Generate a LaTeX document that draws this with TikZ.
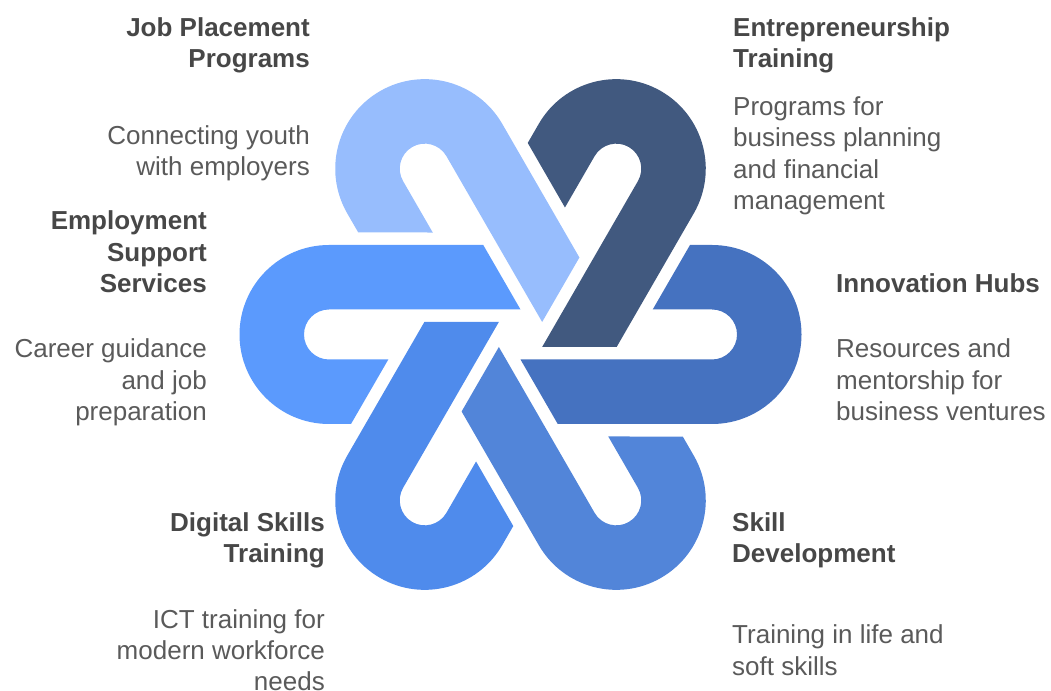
\documentclass[tikz,border=0pt]{standalone}
\usepackage{fontspec}
\setmainfont{Liberation Sans}
\definecolor{cEmp}{HTML}{5B9AFD}
\definecolor{cJob}{HTML}{97BDFD}
\definecolor{cEnt}{HTML}{41597F}
\definecolor{cInn}{HTML}{4572C0}
\definecolor{cSkl}{HTML}{5285D9}
\definecolor{cDig}{HTML}{4F8BEC}
\definecolor{cTitle}{HTML}{474747}
\definecolor{cDesc}{HTML}{5A5A5A}
\tikzset{
  ttl/.style={inner sep=0pt, text=cTitle, font=\fontsize{26}{31.5}\selectfont\bfseries},
  dsc/.style={inner sep=0pt, text=cDesc, font=\fontsize{26}{31.5}\selectfont},
  lft/.style={anchor=base west, align=left},
  rgt/.style={anchor=base east, align=right}
}
\begin{document}
\begin{tikzpicture}[x=1pt,y=1pt]
\useasboundingbox (0,0) rectangle (1051,690);
\clip (0,0) rectangle (1051,690);
\begin{scope}[shift={(520.5,355.5)}]
\foreach \k/\c in {0/cEmp,1/cJob,2/cEnt,3/cInn,4/cSkl,5/cDig}{
  \fill[fill=\c, rotate=-60*\k] (-37.24,89.5) -- (-191.5,89.5)
    arc[start angle=90,end angle=270,radius=89.5] -- (-169.5,-89.5)
    -- (-132.2,-25) -- (-191.5,-25)
    arc[start angle=270,end angle=90,radius=25] -- (0,25) -- cycle;
}
\end{scope}
% anchors sit on the baseline of the last line of each text
\node[ttl,rgt] (jobT) at (310,622) {Job Placement\\Programs};
\node[dsc,rgt] (jobD) at (310,514) {Connecting youth\\with employers};
\node[ttl,lft] (entT) at (733,622) {Entrepreneurship\\Training};
\node[dsc,lft] (entD) at (733,480) {Programs for\\business planning\\and financial\\management};
\node[ttl,rgt] (empT) at (207,397) {Employment\\Support\\Services};
\node[dsc,rgt] (empD) at (207,269) {Career guidance\\and job\\preparation};
\node[ttl,lft] (innT) at (836,397) {Innovation Hubs};
\node[dsc,lft] (innD) at (836,269) {Resources and\\mentorship for\\business ventures};
\node[ttl,rgt] (digT) at (325,127) {Digital Skills\\Training};
\node[dsc,rgt] (digD) at (325,-1) {ICT training for\\modern workforce\\needs};
\node[ttl,lft] (sklT) at (732,127) {Skill\\Development};
\node[dsc,lft] (sklD) at (732,15) {Training in life and\\soft skills};
\end{tikzpicture}
\end{document}
